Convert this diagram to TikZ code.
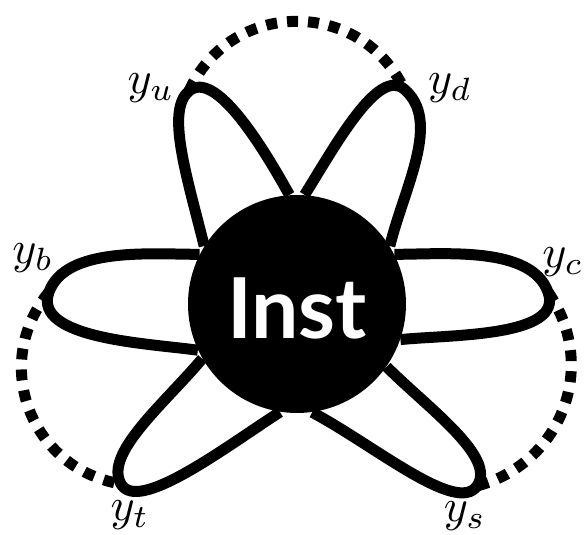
\documentclass[tikz,border=0pt]{standalone}
\usepackage{fontspec}
\usepackage{tikz}
\usetikzlibrary{backgrounds}
\newfontfamily\instfont{Lato}
\tikzset{
    petal/.style={line width=5.5pt, draw=black},
    dotline/.style={line width=5.5pt, dash pattern=on 5.5pt off 5pt},
    tiplabel/.style={scale=2.3, inner sep=0pt}
}
\begin{document}
\begin{tikzpicture}[x=0.5pt, y=0.5pt]
    \useasboundingbox (0,0) rectangle (585,535);
    % central instance
    \node[circle, fill=black, minimum size=109pt, inner sep=0pt, text=white, text height=35pt, text depth=0pt,
          font=\instfont\bfseries\fontsize{42}{46}\selectfont] (inst) at (297,231) {Inst};

    % petal tips
    \coordinate (yu) at (189,444);
    \coordinate (yd) at (404,446);
    \coordinate (yb) at (49,243);
    \coordinate (yc) at (548,243);
    \coordinate (yt) at (121,51);
    \coordinate (ys) at (477,49);

    % tip labels
    \foreach \n/\sub/\x/\y in {lu/u/151/447, ld/d/450/447, lb/b/33/277, lc/c/563/273, lt/t/130/20, ls/s/465/19}
        \node[tiplabel] (\n) at (\x,\y) {$y_\sub$};

    % petals behind the circle
    \begin{scope}[on background layer]
        \draw[petal] (inst.148) to[out=104, in=220, out looseness=1.2, in looseness=0.5] (yu)
            to[out=40, in=119, out looseness=0.6] (inst.94);
        \draw[petal] (inst.86) to[out=58, in=140, in looseness=0.6] (yd)
            to[out=320, in=76, out looseness=0.8] (inst.32);
        \draw[petal] (inst.153) to[out=180, in=70, looseness=0.8] (yb)
            to[out=250, in=172, looseness=0.8] (inst.205);
        \draw[petal] (inst.27) to[out=0, in=110, looseness=0.8] (yc)
            to[out=290, in=6, looseness=0.8] (inst.341);
        \draw[petal] (inst.210) to[out=230, in=120, in looseness=0.6] (yt)
            to[out=300, in=213, out looseness=0.5] (inst.261);
        \draw[petal] (inst.325) to[out=315, in=55, in looseness=0.6] (ys)
            to[out=235, in=332, out looseness=0.5] (inst.278);
    \end{scope}

    % dotted arcs between tips
    \draw[dotline] (yu) to[bend left=65, looseness=1.2] (yd);
    \draw[dotline] (yb) to[bend right=60, looseness=1.15] (yt);
    \draw[dotline] (yc) to[bend left=55, looseness=1.1] (ys);
\end{tikzpicture}
\end{document}
